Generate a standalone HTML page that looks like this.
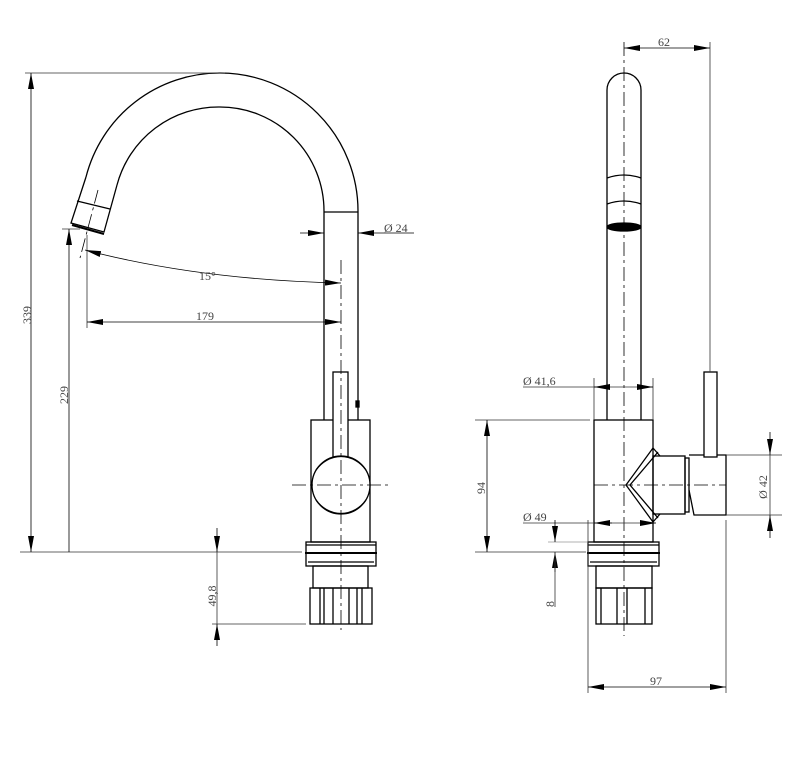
<!DOCTYPE html>
<html><head><meta charset="utf-8"><style>
html,body{margin:0;padding:0;background:#fff;}
svg{display:block;}
text{font-family:"Liberation Serif",serif;font-size:12px;fill:#444;}
</style></head><body>
<svg width="812" height="768" viewBox="0 0 812 768" xmlns="http://www.w3.org/2000/svg">
<defs>
<marker id="a" viewBox="0 0 16 6" refX="16" refY="3" markerWidth="16" markerHeight="6" markerUnits="userSpaceOnUse" orient="auto-start-reverse"><path d="M0,0L16,3L0,6z" fill="#000"/></marker>
</defs>
<g fill="none" stroke="#000" stroke-width="1.3">
<!-- LEFT VIEW -->
<path d="M86,177 A138,138 0 0 1 220,73 A138,138 0 0 1 358,211 L358,420"/>
<path d="M117,185 A105,105 0 0 1 220,107 A104,104 0 0 1 324,211 L324,420"/>
<line x1="324" y1="212" x2="358" y2="212"/>
<path d="M86,177 L71,223 L104,232 L117,185"/>
<line x1="77" y1="201" x2="110" y2="209"/>
<line x1="72" y1="225" x2="104" y2="234" stroke-width="2"/>
<rect x="311" y="420" width="59" height="122"/>
<rect x="333" y="372" width="15" height="85" fill="#fff"/>
<circle cx="341" cy="485" r="29" fill="#fff"/>
<path d="M316,470 A32,36 0 0 1 366,470"/>
<path d="M316,500 A32,36 0 0 0 366,500"/>
<rect x="306" y="542" width="70" height="24"/>
<line x1="306" y1="545" x2="376" y2="545"/>
<line x1="305" y1="553" x2="377" y2="553" stroke-width="2"/>
<line x1="308" y1="562" x2="374" y2="562"/>
<rect x="313" y="566" width="55" height="22"/>
<rect x="310" y="588" width="62" height="36"/>
<path d="M320,588V624M324,588V624M333,588V624M349,588V624M357,588V624M362,588V624"/>
<rect x="356" y="401" width="3" height="6" fill="#000"/>
<!-- RIGHT VIEW -->
<path d="M607,420 L607,90 A17,17 0 0 1 641,90 L641,420"/>
<path d="M607,178 Q624,172 641,178M607,204 Q624,198 641,204"/>
<ellipse cx="624" cy="227" rx="17" ry="4" fill="#000"/>
<rect x="594" y="420" width="59" height="122"/>
<rect x="653" y="456" width="32" height="58"/>
<rect x="685" y="458" width="4" height="54"/>
<path d="M689,455 H726 V515 H694 L689,490"/>
<rect x="704" y="372" width="13" height="85" fill="#fff"/>
<path d="M653,448 L626,485 L653,522 M658,452 L630,485 L658,518 M653,448 L660,456 M653,522 L660,514"/>
<rect x="588" y="542" width="71" height="24"/>
<line x1="588" y1="545" x2="659" y2="545"/>
<line x1="587" y1="553" x2="660" y2="553" stroke-width="2"/>
<line x1="590" y1="562" x2="657" y2="562"/>
<rect x="596" y="566" width="56" height="22"/>
<rect x="596" y="588" width="56" height="36"/>
<path d="M601,588V624M617,588V624M627,588V624M645,588V624"/>
</g>
<!-- centerlines -->
<g stroke="#000" stroke-width="0.8" stroke-dasharray="14,4,3,4" fill="none">
<line x1="341" y1="260" x2="341" y2="630"/>
<line x1="292" y1="485" x2="390" y2="485"/>
<line x1="98" y1="190" x2="80" y2="258"/>
<line x1="624" y1="42" x2="624" y2="636"/>
<line x1="594" y1="485" x2="726" y2="485"/>
</g>
<!-- dimension lines -->
<g stroke="#333" stroke-width="0.8" fill="none">
<line x1="25" y1="73" x2="225" y2="73"/>
<line x1="20" y1="552" x2="302" y2="552"/>
<line x1="31" y1="73" x2="31" y2="552" marker-start="url(#a)" marker-end="url(#a)" stroke="#000"/>
<line x1="62" y1="229" x2="80" y2="229"/>
<line x1="69" y1="552" x2="69" y2="229" marker-end="url(#a)" stroke="#000"/>
<line x1="87" y1="235" x2="87" y2="328"/>
<line x1="87" y1="322" x2="341" y2="322" marker-start="url(#a)" marker-end="url(#a)" stroke="#000"/>
<path d="M85,250 Q200,280 341,283" marker-start="url(#a)" marker-end="url(#a)" stroke="#000"/>
<line x1="300" y1="233" x2="324" y2="233" marker-end="url(#a)" stroke="#000"/>
<line x1="414" y1="233" x2="358" y2="233" marker-end="url(#a)" stroke="#000"/>
<line x1="212" y1="624" x2="306" y2="624"/>
<line x1="217" y1="528" x2="217" y2="552" marker-end="url(#a)" stroke="#000"/>
<line x1="217" y1="646" x2="217" y2="624" marker-end="url(#a)" stroke="#000"/>
<line x1="217" y1="552" x2="217" y2="624"/>
<!-- right -->
<line x1="710" y1="42" x2="710" y2="372"/>
<line x1="624" y1="48" x2="710" y2="48" marker-start="url(#a)" marker-end="url(#a)" stroke="#000"/>
<line x1="594" y1="378" x2="594" y2="420"/>
<line x1="653" y1="378" x2="653" y2="420"/>
<line x1="523" y1="387" x2="653" y2="387"/>
<line x1="610" y1="387" x2="594" y2="387" marker-end="url(#a)" stroke="#000"/>
<line x1="637" y1="387" x2="653" y2="387" marker-end="url(#a)" stroke="#000"/>
<line x1="475" y1="420" x2="590" y2="420"/>
<line x1="475" y1="552" x2="586" y2="552"/>
<line x1="487" y1="420" x2="487" y2="552" marker-start="url(#a)" marker-end="url(#a)" stroke="#000"/>
<line x1="523" y1="523" x2="655" y2="523"/>
<line x1="612" y1="523" x2="594" y2="523" marker-end="url(#a)" stroke="#000"/>
<line x1="640" y1="523" x2="656" y2="523" marker-end="url(#a)" stroke="#000"/>
<line x1="548" y1="542" x2="588" y2="542" stroke="#999"/>
<line x1="555" y1="520" x2="555" y2="542" marker-end="url(#a)" stroke="#000"/>
<line x1="555" y1="572" x2="555" y2="552" marker-end="url(#a)" stroke="#000"/>
<line x1="555" y1="552" x2="555" y2="607"/>
<line x1="726" y1="455" x2="782" y2="455"/>
<line x1="726" y1="515" x2="782" y2="515"/>
<line x1="770" y1="432" x2="770" y2="455" marker-end="url(#a)" stroke="#000"/>
<line x1="770" y1="538" x2="770" y2="515" marker-end="url(#a)" stroke="#000"/>
<line x1="770" y1="455" x2="770" y2="515"/>
<line x1="588" y1="520" x2="588" y2="693"/>
<line x1="726" y1="520" x2="726" y2="693"/>
<line x1="588" y1="687" x2="726" y2="687" marker-start="url(#a)" marker-end="url(#a)" stroke="#000"/>
</g>
<!-- labels -->
<text x="0" y="0" transform="translate(31,315) rotate(-90)" text-anchor="middle">339</text>
<text x="0" y="0" transform="translate(68,395) rotate(-90)" text-anchor="middle">229</text>
<text x="199" y="280">15°</text>
<text x="196" y="320">179</text>
<text x="384" y="232">Ø 24</text>
<text x="0" y="0" transform="translate(216,596) rotate(-90)" text-anchor="middle">49,8</text>
<text x="658" y="46">62</text>
<text x="523" y="385">Ø 41,6</text>
<text x="0" y="0" transform="translate(485,488) rotate(-90)" text-anchor="middle">94</text>
<text x="523" y="521">Ø 49</text>
<text x="0" y="0" transform="translate(554,604) rotate(-90)" text-anchor="middle">8</text>
<text x="0" y="0" transform="translate(767,487) rotate(-90)" text-anchor="middle">Ø 42</text>
<text x="650" y="685">97</text>
</svg>
</body></html>
